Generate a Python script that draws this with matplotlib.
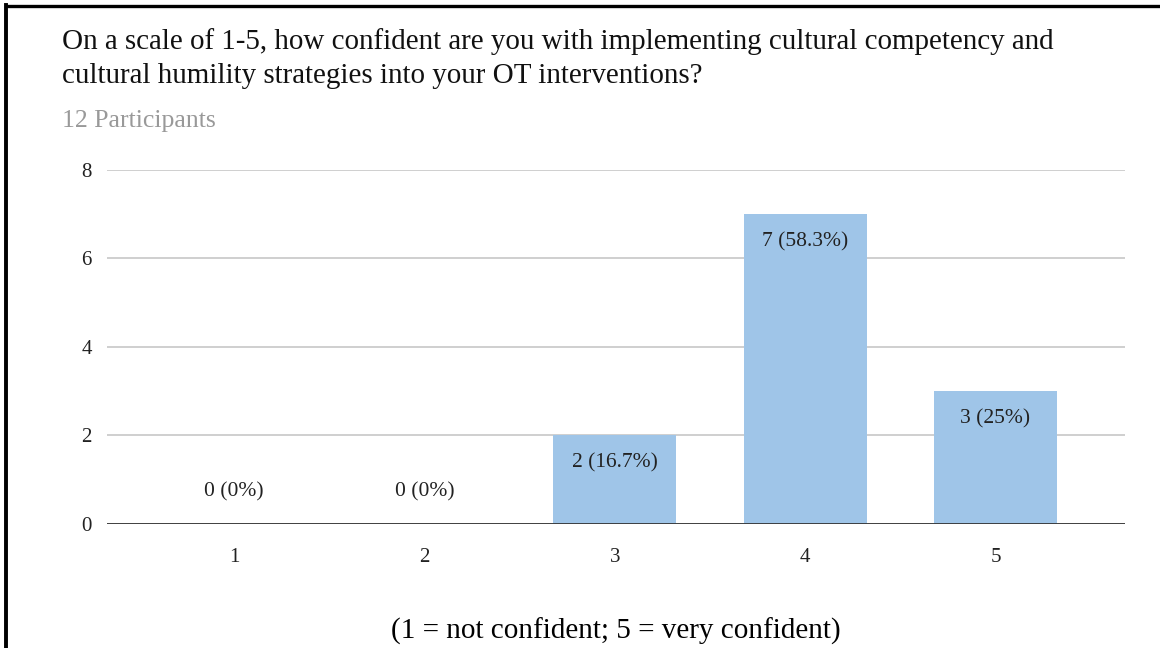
import matplotlib.pyplot as plt
from matplotlib.lines import Line2D

plt.rcParams['font.family'] = ['Liberation Serif', 'DejaVu Serif']

ratings = [1, 2, 3, 4, 5]
counts = [0, 0, 2, 7, 3]
labels = ['0 (0%)', '0 (0%)', '2 (16.7%)', '7 (58.3%)', '3 (25%)']
yticks = [0, 2, 4, 6, 8]

fig = plt.figure(figsize=(11.6, 6.48), dpi=100)
ax = fig.add_axes([0.0922, 0.1914, 0.8776, 0.5463])

ax.bar(ratings, counts, width=0.645, color='#9fc5e8', zorder=2)

for x, c, lab in zip(ratings, counts, labels):
    if c > 0:
        ax.annotate(lab, (x, c), xytext=(0, -20), textcoords='offset points',
                    ha='center', va='center', fontsize=15.5, color='#222222', zorder=3)
    else:
        ax.annotate(lab, (x, c), xytext=(0, 23), textcoords='offset points',
                    ha='center', va='center', fontsize=15.5, color='#222222', zorder=3)

ax.set_xlim(0.333, 5.68)
ax.set_ylim(0, 8)
ax.set_yticks(yticks)
ax.set_xticks(ratings)
ax.tick_params(length=0, labelsize=15, colors='#222222')
ax.tick_params(axis='y', pad=11)
ax.tick_params(axis='x', pad=17)
ax.grid(axis='y', color='#cccccc', linewidth=1.3, zorder=0)
ax.axhline(0, color='#333333', linewidth=2, zorder=4)
for s in ax.spines.values():
    s.set_visible(False)

ax.set_xlabel('(1 = not confident; 5 = very confident)', fontsize=21, labelpad=37)

fig.text(0.0534, 0.910, 'On a scale of 1-5, how confident are you with implementing cultural competency and\n'
         'cultural humility strategies into your OT interventions?',
         fontsize=20.9, va='center', ha='left', linespacing=1.4, color='#111111')
fig.text(0.0534, 0.813, '12 Participants', fontsize=18.5, color='#999999', va='center', ha='left')

# frame edges
fig.add_artist(Line2D([0.005, 1.0], [0.9915, 0.9915], color='black', linewidth=2.4))
fig.add_artist(Line2D([0.0053, 0.0053], [0.0, 0.993], color='black', linewidth=2.8))

fig.savefig('out.png', dpi=100)
